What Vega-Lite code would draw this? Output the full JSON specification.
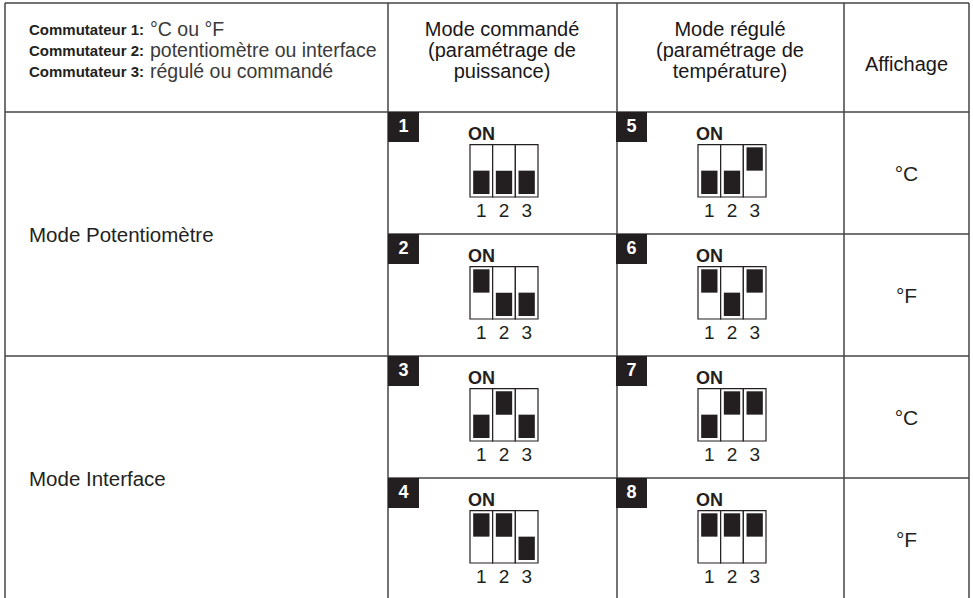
{
  "$schema": "https://vega.github.io/schema/vega-lite/v6.json",
  "width": 973,
  "height": 598,
  "padding": 0,
  "autosize": {"type": "none"},
  "background": "white",
  "config": {"view": {"stroke": null}, "text": {"font": "Liberation Sans", "color": "#231f20"}},
  "datasets": {
    "cas": [
      {"num": 1, "ligne": 1, "mode": "commandé"},
      {"num": 2, "ligne": 2, "mode": "commandé"},
      {"num": 3, "ligne": 3, "mode": "commandé"},
      {"num": 4, "ligne": 4, "mode": "commandé"},
      {"num": 5, "ligne": 1, "mode": "régulé"},
      {"num": 6, "ligne": 2, "mode": "régulé"},
      {"num": 7, "ligne": 3, "mode": "régulé"},
      {"num": 8, "ligne": 4, "mode": "régulé"}
    ],
    "interrupteurs": [
      {"num": 1, "ligne": 1, "mode": "commandé", "inter": "1", "etat": "OFF"},
      {"num": 1, "ligne": 1, "mode": "commandé", "inter": "2", "etat": "OFF"},
      {"num": 1, "ligne": 1, "mode": "commandé", "inter": "3", "etat": "OFF"},
      {"num": 2, "ligne": 2, "mode": "commandé", "inter": "1", "etat": "ON"},
      {"num": 2, "ligne": 2, "mode": "commandé", "inter": "2", "etat": "OFF"},
      {"num": 2, "ligne": 2, "mode": "commandé", "inter": "3", "etat": "OFF"},
      {"num": 3, "ligne": 3, "mode": "commandé", "inter": "1", "etat": "OFF"},
      {"num": 3, "ligne": 3, "mode": "commandé", "inter": "2", "etat": "ON"},
      {"num": 3, "ligne": 3, "mode": "commandé", "inter": "3", "etat": "OFF"},
      {"num": 4, "ligne": 4, "mode": "commandé", "inter": "1", "etat": "ON"},
      {"num": 4, "ligne": 4, "mode": "commandé", "inter": "2", "etat": "ON"},
      {"num": 4, "ligne": 4, "mode": "commandé", "inter": "3", "etat": "OFF"},
      {"num": 5, "ligne": 1, "mode": "régulé", "inter": "1", "etat": "OFF"},
      {"num": 5, "ligne": 1, "mode": "régulé", "inter": "2", "etat": "OFF"},
      {"num": 5, "ligne": 1, "mode": "régulé", "inter": "3", "etat": "ON"},
      {"num": 6, "ligne": 2, "mode": "régulé", "inter": "1", "etat": "ON"},
      {"num": 6, "ligne": 2, "mode": "régulé", "inter": "2", "etat": "OFF"},
      {"num": 6, "ligne": 2, "mode": "régulé", "inter": "3", "etat": "ON"},
      {"num": 7, "ligne": 3, "mode": "régulé", "inter": "1", "etat": "OFF"},
      {"num": 7, "ligne": 3, "mode": "régulé", "inter": "2", "etat": "ON"},
      {"num": 7, "ligne": 3, "mode": "régulé", "inter": "3", "etat": "ON"},
      {"num": 8, "ligne": 4, "mode": "régulé", "inter": "1", "etat": "ON"},
      {"num": 8, "ligne": 4, "mode": "régulé", "inter": "2", "etat": "ON"},
      {"num": 8, "ligne": 4, "mode": "régulé", "inter": "3", "etat": "ON"}
    ],
    "traits": [
      {"c1": 0, "c2": 0, "l1": 0, "l2": 5},
      {"c1": 1, "c2": 1, "l1": 0, "l2": 5},
      {"c1": 2, "c2": 2, "l1": 0, "l2": 5},
      {"c1": 3, "c2": 3, "l1": 0, "l2": 5},
      {"c1": 4, "c2": 4, "l1": 0, "l2": 5},
      {"c1": 0, "c2": 4, "l1": 0, "l2": 0},
      {"c1": 0, "c2": 4, "l1": 1, "l2": 1},
      {"c1": 1, "c2": 4, "l1": 2, "l2": 2},
      {"c1": 0, "c2": 4, "l1": 3, "l2": 3},
      {"c1": 1, "c2": 4, "l1": 4, "l2": 4},
      {"c1": 0, "c2": 4, "l1": 5, "l2": 5}
    ],
    "entete": [
      {"colonne": "commandé", "ligne": 1, "texte": "Mode commandé"},
      {"colonne": "commandé", "ligne": 2, "texte": "(paramétrage de"},
      {"colonne": "commandé", "ligne": 3, "texte": "puissance)"},
      {"colonne": "régulé", "ligne": 1, "texte": "Mode régulé"},
      {"colonne": "régulé", "ligne": 2, "texte": "(paramétrage de"},
      {"colonne": "régulé", "ligne": 3, "texte": "température)"}
    ],
    "commutateurs": [
      {"numero": 1, "gras": "Commutateur 1:", "texte": "°C ou °F"},
      {"numero": 2, "gras": "Commutateur 2:", "texte": "potentiomètre ou interface"},
      {"numero": 3, "gras": "Commutateur 3:", "texte": "régulé ou commandé"}
    ],
    "modes": [
      {"lignes": "1-2", "texte": "Mode Potentiomètre"},
      {"lignes": "3-4", "texte": "Mode Interface"}
    ],
    "affichage": [
      {"ligne": 1, "texte": "°C"},
      {"ligne": 2, "texte": "°F"},
      {"ligne": 3, "texte": "°C"},
      {"ligne": 4, "texte": "°F"}
    ]
  },
  "resolve": {"scale": {"x": "independent", "y": "independent", "xOffset": "independent", "yOffset": "independent"}},
  "layer": [
    {
      "data": {"name": "traits"},
      "mark": {"type": "rule", "stroke": "#444444", "strokeWidth": 1.5},
      "encoding": {
        "x": {"field": "c1", "type": "quantitative", "axis": null, "scale": {"domain": [0, 1, 2, 3, 4], "range": [5, 388, 617, 844, 969], "zero": false, "nice": false}},
        "x2": {"field": "c2"},
        "y": {"field": "l1", "type": "quantitative", "axis": null, "scale": {"domain": [0, 1, 5], "range": [3, 112, 600], "zero": false, "nice": false}},
        "y2": {"field": "l2"}
      }
    },
    {
      "data": {"name": "cas"},
      "mark": {"type": "bar", "fill": "#231f20", "width": {"band": 1}, "height": {"band": 1}},
      "encoding": {
        "x": {"field": "mode", "type": "nominal", "axis": null, "scale": {"type": "band", "domain": ["commandé", "régulé"], "range": [388, 844], "paddingInner": 0, "paddingOuter": 0}},
        "xOffset": {"datum": "numéro", "type": "nominal", "scale": {"domain": ["numéro"], "range": [0, 31], "paddingInner": 0, "paddingOuter": 0}},
        "y": {"field": "ligne", "type": "ordinal", "axis": null, "scale": {"type": "band", "domain": [1, 2, 3, 4], "range": [112, 600], "paddingInner": 0, "paddingOuter": 0}},
        "yOffset": {"datum": "numéro", "type": "nominal", "scale": {"domain": ["numéro"], "range": [0, 30], "paddingInner": 0, "paddingOuter": 0}}
      }
    },
    {
      "data": {"name": "cas"},
      "mark": {"type": "text", "color": "white", "fontWeight": "bold", "fontSize": 18, "align": "center", "baseline": "middle"},
      "encoding": {
        "x": {"field": "mode", "type": "nominal", "axis": null, "scale": {"type": "band", "domain": ["commandé", "régulé"], "range": [388, 844], "paddingInner": 0, "paddingOuter": 0}},
        "xOffset": {"datum": "numéro", "type": "nominal", "scale": {"type": "point", "domain": ["numéro"], "range": [14.5, 16.5], "padding": 0}},
        "y": {"field": "ligne", "type": "ordinal", "axis": null, "scale": {"type": "band", "domain": [1, 2, 3, 4], "range": [112, 600], "paddingInner": 0, "paddingOuter": 0}},
        "yOffset": {"datum": "numéro", "type": "nominal", "scale": {"type": "point", "domain": ["numéro"], "range": [14, 16], "padding": 0}},
        "text": {"field": "num", "type": "nominal"}
      }
    },
    {
      "data": {"name": "interrupteurs"},
      "mark": {"type": "bar", "fill": "white", "stroke": "#231f20", "strokeWidth": 1.2, "width": {"band": 1}, "height": {"band": 1}},
      "encoding": {
        "x": {"field": "mode", "type": "nominal", "axis": null, "scale": {"type": "band", "domain": ["commandé", "régulé"], "range": [388, 844], "paddingInner": 0, "paddingOuter": 0}},
        "xOffset": {"field": "inter", "type": "nominal", "scale": {"domain": ["1", "2", "3"], "range": [82, 150], "paddingInner": 0, "paddingOuter": 0}},
        "y": {"field": "ligne", "type": "ordinal", "axis": null, "scale": {"type": "band", "domain": [1, 2, 3, 4], "range": [112, 600], "paddingInner": 0, "paddingOuter": 0}},
        "yOffset": {"datum": "boîtier", "type": "nominal", "scale": {"domain": ["boîtier"], "range": [32.7, 85], "paddingInner": 0, "paddingOuter": 0}}
      }
    },
    {
      "data": {"name": "interrupteurs"},
      "mark": {"type": "bar", "fill": "#231f20", "width": {"band": 1}, "height": {"band": 1}},
      "encoding": {
        "x": {"field": "mode", "type": "nominal", "axis": null, "scale": {"type": "band", "domain": ["commandé", "régulé"], "range": [388, 844], "paddingInner": 0, "paddingOuter": 0}},
        "xOffset": {"field": "inter", "type": "nominal", "scale": {"domain": ["1", "2", "3"], "range": [82, 150], "paddingInner": 0.28, "paddingOuter": 0.14}},
        "y": {"field": "ligne", "type": "ordinal", "axis": null, "scale": {"type": "band", "domain": [1, 2, 3, 4], "range": [112, 600], "paddingInner": 0, "paddingOuter": 0}},
        "yOffset": {"field": "etat", "type": "nominal", "scale": {"domain": ["ON", "OFF"], "range": [35.3, 82], "paddingInner": 0, "paddingOuter": 0}}
      }
    },
    {
      "data": {"name": "cas"},
      "mark": {"type": "text", "fontWeight": "bold", "fontSize": 18, "align": "left", "baseline": "middle"},
      "encoding": {
        "x": {"field": "mode", "type": "nominal", "axis": null, "scale": {"type": "band", "domain": ["commandé", "régulé"], "range": [388, 844], "paddingInner": 0, "paddingOuter": 0}},
        "xOffset": {"datum": "ON", "type": "nominal", "scale": {"type": "point", "domain": ["ON"], "range": [79, 81], "padding": 0}},
        "y": {"field": "ligne", "type": "ordinal", "axis": null, "scale": {"type": "band", "domain": [1, 2, 3, 4], "range": [112, 600], "paddingInner": 0, "paddingOuter": 0}},
        "yOffset": {"datum": "ON", "type": "nominal", "scale": {"type": "point", "domain": ["ON"], "range": [22, 24], "padding": 0}},
        "text": {"value": "ON"}
      }
    },
    {
      "data": {"name": "interrupteurs"},
      "mark": {"type": "text", "fontSize": 19, "align": "center", "baseline": "middle"},
      "encoding": {
        "x": {"field": "mode", "type": "nominal", "axis": null, "scale": {"type": "band", "domain": ["commandé", "régulé"], "range": [388, 844], "paddingInner": 0, "paddingOuter": 0}},
        "xOffset": {"field": "inter", "type": "nominal", "scale": {"type": "point", "domain": ["1", "2", "3"], "range": [93.3, 138.7], "padding": 0}},
        "y": {"field": "ligne", "type": "ordinal", "axis": null, "scale": {"type": "band", "domain": [1, 2, 3, 4], "range": [112, 600], "paddingInner": 0, "paddingOuter": 0}},
        "yOffset": {"datum": "chiffres", "type": "nominal", "scale": {"type": "point", "domain": ["chiffres"], "range": [98, 100], "padding": 0}},
        "text": {"field": "inter", "type": "nominal"}
      }
    },
    {
      "data": {"name": "entete"},
      "mark": {"type": "text", "fontSize": 20, "align": "center", "baseline": "middle", "color": "#1a1718"},
      "encoding": {
        "x": {"field": "colonne", "type": "nominal", "axis": null, "scale": {"type": "band", "domain": ["commandé", "régulé"], "range": [388, 844], "paddingInner": 0, "paddingOuter": 0}},
        "y": {"field": "ligne", "type": "ordinal", "axis": null, "scale": {"type": "point", "domain": [1, 2, 3], "range": [30, 72], "padding": 0}},
        "text": {"field": "texte", "type": "nominal"}
      }
    },
    {
      "data": {"values": [{"texte": "Affichage"}]},
      "mark": {"type": "text", "fontSize": 20, "align": "center", "baseline": "middle", "color": "#1a1718"},
      "encoding": {
        "x": {"datum": "Affichage", "type": "nominal", "axis": null, "scale": {"type": "band", "domain": ["Affichage"], "range": [844, 969], "paddingInner": 0, "paddingOuter": 0}},
        "y": {"datum": "Affichage", "type": "nominal", "axis": null, "scale": {"type": "band", "domain": ["Affichage"], "range": [3, 126], "paddingInner": 0, "paddingOuter": 0}},
        "text": {"field": "texte", "type": "nominal"}
      }
    },
    {
      "data": {"name": "affichage"},
      "mark": {"type": "text", "fontSize": 21, "align": "center", "baseline": "middle"},
      "encoding": {
        "x": {"datum": "Affichage", "type": "nominal", "axis": null, "scale": {"type": "band", "domain": ["Affichage"], "range": [844, 969], "paddingInner": 0, "paddingOuter": 0}},
        "y": {"field": "ligne", "type": "ordinal", "axis": null, "scale": {"type": "band", "domain": [1, 2, 3, 4], "range": [114, 602], "paddingInner": 0, "paddingOuter": 0}},
        "text": {"field": "texte", "type": "nominal"}
      }
    },
    {
      "data": {"name": "commutateurs"},
      "mark": {"type": "text", "fontWeight": "bold", "fontSize": 15, "align": "left", "baseline": "middle"},
      "encoding": {
        "x": {"datum": "gras", "type": "nominal", "axis": null, "scale": {"type": "point", "domain": ["gras", "texte"], "range": [29, 150], "padding": 0}},
        "y": {"field": "numero", "type": "ordinal", "axis": null, "scale": {"type": "point", "domain": [1, 2, 3], "range": [30, 71.5], "padding": 0}},
        "text": {"field": "gras", "type": "nominal"}
      }
    },
    {
      "data": {"name": "commutateurs"},
      "mark": {"type": "text", "fontSize": 19.5, "align": "left", "baseline": "middle", "color": "#3a3a3a"},
      "encoding": {
        "x": {"datum": "texte", "type": "nominal", "axis": null, "scale": {"type": "point", "domain": ["gras", "texte"], "range": [29, 150], "padding": 0}},
        "y": {"field": "numero", "type": "ordinal", "axis": null, "scale": {"type": "point", "domain": [1, 2, 3], "range": [30, 71.5], "padding": 0}},
        "text": {"field": "texte", "type": "nominal"}
      }
    },
    {
      "data": {"name": "modes"},
      "mark": {"type": "text", "fontSize": 20.5, "align": "left", "baseline": "middle"},
      "encoding": {
        "x": {"datum": "modes", "type": "nominal", "axis": null, "scale": {"type": "point", "domain": ["modes"], "range": [28, 30], "padding": 0}},
        "y": {"field": "lignes", "type": "nominal", "axis": null, "scale": {"type": "band", "domain": ["1-2", "3-4"], "range": [114, 602], "paddingInner": 0, "paddingOuter": 0}},
        "text": {"field": "texte", "type": "nominal"}
      }
    }
  ]
}
